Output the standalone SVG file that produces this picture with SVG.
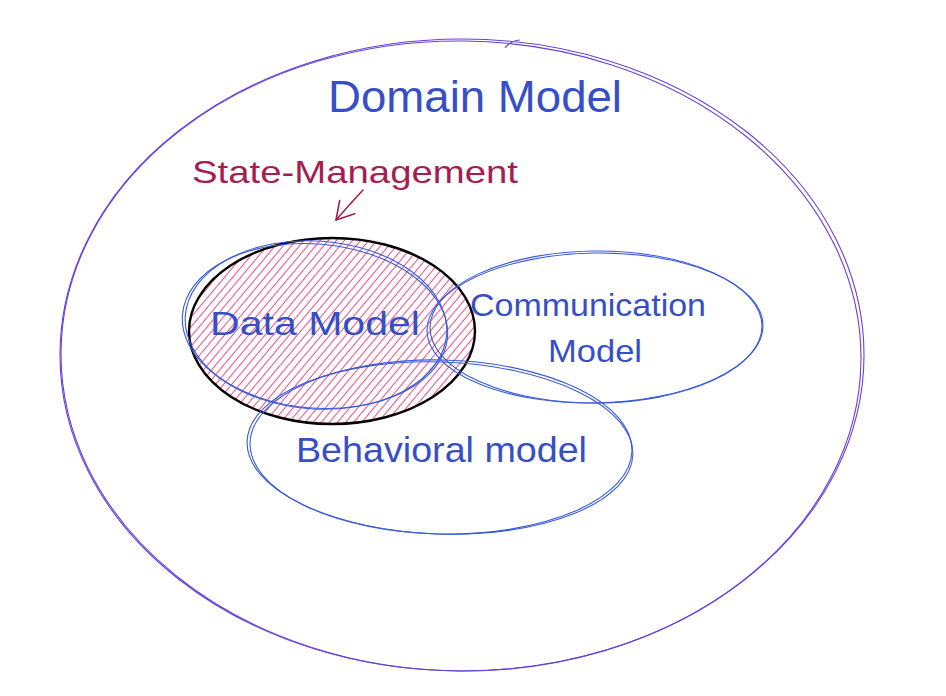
<svg xmlns="http://www.w3.org/2000/svg" width="946" height="696" viewBox="0 0 946 696">
  <defs>
    <style>
      .outer { fill: none; stroke: #6741d9; stroke-width: 1.1; }
      .blue { fill: none; stroke: #3b5bdb; stroke-width: 1.1; }
      .black { fill: url(#hatch); stroke: #000000; stroke-width: 2.4; }
      .lbl { font-family: "Liberation Sans", "DejaVu Sans", sans-serif; fill: #364fc7; }
      .red { font-family: "Liberation Sans", "DejaVu Sans", sans-serif; fill: #a61e4d; }
      .conn { fill: none; stroke: #a61e4d; stroke-width: 1.6; stroke-linecap: round; stroke-linejoin: round; }
    </style>
    <pattern id="hatch" patternUnits="userSpaceOnUse" width="6.2" height="10" patternTransform="rotate(40)">
      <line x1="3" y1="-2" x2="3" y2="12" stroke="#e64980" stroke-width="1"/>
    </pattern>
    <marker id="arrowhead" markerUnits="userSpaceOnUse" markerWidth="30" markerHeight="30" refX="0" refY="0" orient="auto" overflow="visible" viewBox="-20 -15 30 30">
      <path d="M-17,-10 L0,0 L-17,10" fill="none" stroke="#a61e4d" stroke-width="1.6" stroke-linecap="round" stroke-linejoin="round"/>
    </marker>
  </defs>

  <rect x="0" y="0" width="946" height="696" fill="#ffffff"/>

  <g id="domain-model">
    <ellipse class="outer" cx="462" cy="355" rx="402" ry="316"/>
    <ellipse class="outer" cx="461" cy="356" rx="400" ry="315" transform="rotate(0.7 461 356)"/>
    <path class="outer" d="M505,48 Q510,41 520,40"/>
    <text class="lbl" x="328" y="112" font-size="44" textLength="294" lengthAdjust="spacingAndGlyphs">Domain Model</text>
  </g>

  <g id="state-management">
    <ellipse class="black" cx="332" cy="331" rx="143" ry="93"/>
    <text class="red" x="192" y="183" font-size="32" textLength="326" lengthAdjust="spacingAndGlyphs">State-Management</text>
  </g>

  <g id="data-model">
    <ellipse class="blue" cx="315" cy="326" rx="133" ry="82" transform="rotate(5 315 326)"/>
    <ellipse class="blue" cx="316" cy="325" rx="131" ry="84" transform="rotate(4 316 325)"/>
    <text class="lbl" x="210" y="335" font-size="34" textLength="210" lengthAdjust="spacingAndGlyphs">Data Model</text>
  </g>

  <g id="communication-model">
    <ellipse class="blue" cx="595" cy="328" rx="168" ry="75" transform="rotate(-1 595 328)"/>
    <ellipse class="blue" cx="596" cy="327" rx="166" ry="76" transform="rotate(-0.3 596 327)"/>
    <text class="lbl" x="470" y="316" font-size="32" textLength="236" lengthAdjust="spacingAndGlyphs">Communication</text>
    <text class="lbl" x="548" y="362" font-size="32" textLength="94" lengthAdjust="spacingAndGlyphs">Model</text>
  </g>

  <g id="behavioral-model">
    <ellipse class="blue" cx="440" cy="448" rx="193" ry="86" transform="rotate(2 440 448)"/>
    <ellipse class="blue" cx="441" cy="447" rx="191" ry="87" transform="rotate(1.2 441 447)"/>
    <text class="lbl" x="296" y="462" font-size="35" textLength="291" lengthAdjust="spacingAndGlyphs">Behavioral model</text>
  </g>

  <g id="connectors">
    <path class="conn" d="M363,190 Q350,204 336,220" marker-end="url(#arrowhead)"/>
  </g>
</svg>
